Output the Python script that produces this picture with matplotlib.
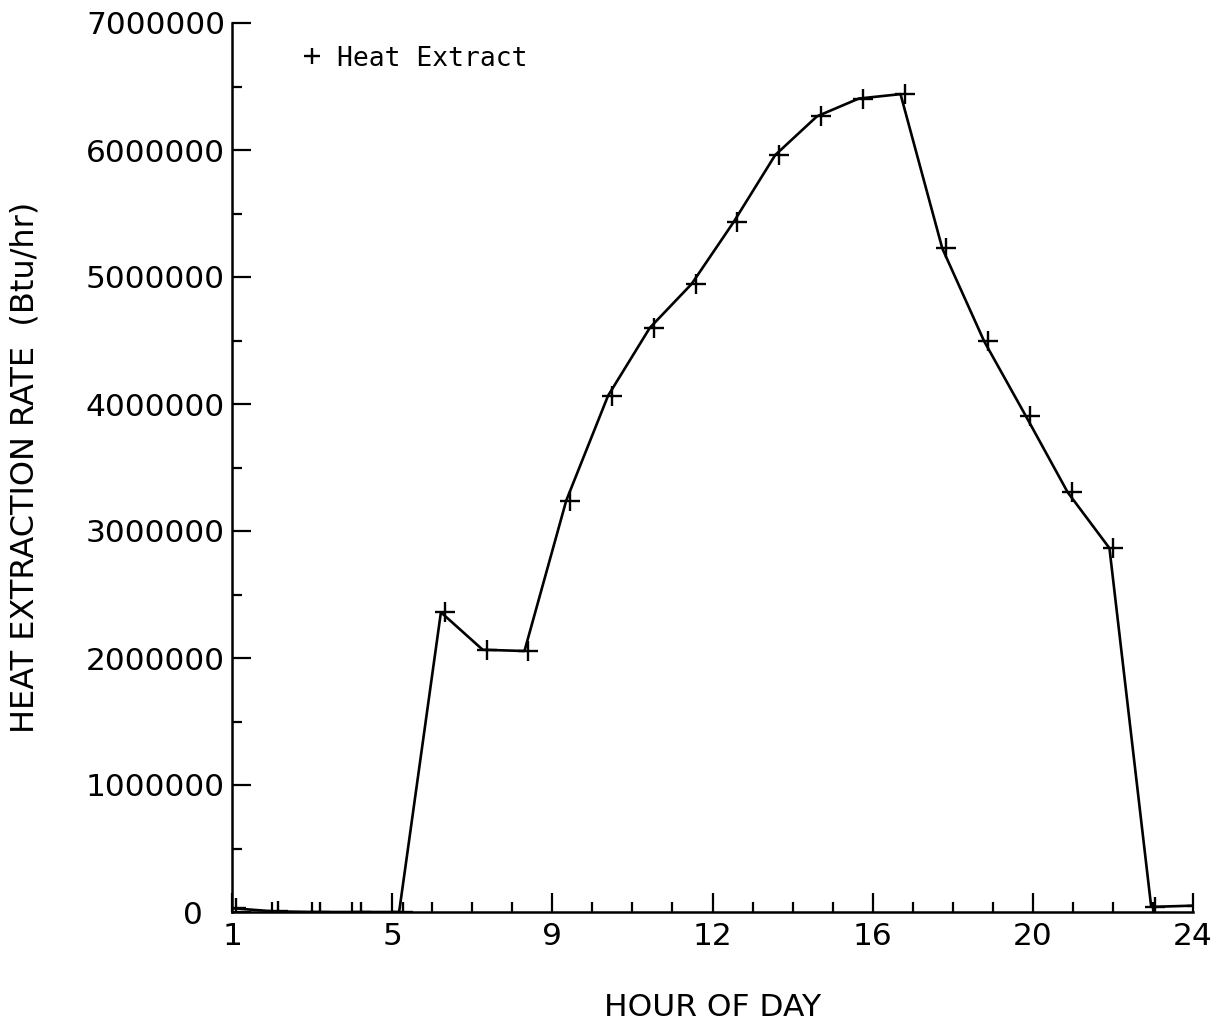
import matplotlib
matplotlib.use("Agg")
import matplotlib.pyplot as plt
import matplotlib.transforms as mtransforms
import numpy as np

# hourly heat extraction rate
hours = list(range(1, 25))
rate = [30000, 5000, 0, 0, 0,
        2360000, 2065000, 2055000, 3240000, 4065000, 4600000, 4945000,
        5430000, 5960000, 6265000, 6405000, 6440000, 5225000, 4495000,
        3905000, 3305000, 2865000, 40000, 50000]

x_tick_labels = ["1", "5", "9", "12", "16", "20", "24"]
y_ticks = [0, 1000000, 2000000, 3000000, 4000000, 5000000, 6000000, 7000000]

plt.rcParams['font.family'] = ['DejaVu Sans']

fig = plt.figure(figsize=(12.22, 10.26), dpi=100)
ax = fig.add_axes([232 / 1222, 114 / 1026, 961 / 1222, 889 / 1026])

ax.plot(hours, rate, color="black", lw=1.9)

# the plotter put the crosses a few pixels right of the line vertices
shift = mtransforms.ScaledTranslation(0.04, 0, fig.dpi_scale_trans)
ax.plot(hours, rate, linestyle="none", marker="+", ms=14, mew=1.7,
        color="black", label="Heat Extract", transform=ax.transData + shift)

ax.set_xlim(1, 24)
ax.set_ylim(0, 7000000)

ax.set_xticks(np.linspace(1, 24, 7))
ax.set_xticklabels(x_tick_labels)
ax.set_xticks(np.linspace(1, 24, 25), minor=True)
ax.set_yticks(y_ticks)
ax.set_yticklabels([str(v) for v in y_ticks])
ax.set_yticks(np.arange(0, 7000001, 500000), minor=True)

for side in ("top", "right"):
    ax.spines[side].set_visible(False)
for side in ("left", "bottom"):
    ax.spines[side].set_linewidth(1.8)

ax.tick_params(which="both", direction="in", width=1.6, labelsize=22.5)
ax.tick_params(which="major", length=14)
ax.tick_params(which="minor", length=7)
ax.tick_params(axis="x", which="major", pad=7)
ax.tick_params(axis="y", which="major", pad=5)
# the zero label sits further left on the original
ax.yaxis.get_major_ticks()[0].set_pad(21)

ax.set_xlabel("HOUR OF DAY", fontsize=22.5)
ax.set_ylabel("HEAT EXTRACTION RATE  (Btu/hr)", fontsize=23)
ax.xaxis.set_label_coords(0.5, -0.091)
ax.yaxis.set_label_coords(-0.199, 0.5)

ax.legend(loc="center left", bbox_to_anchor=(0.0697, 0.96), frameon=False,
          handlelength=1.0, handletextpad=0.45, borderpad=0, borderaxespad=0,
          markerscale=0.8, prop={"family": "DejaVu Sans Mono", "size": 19})

fig.savefig("out.png", dpi=100)
